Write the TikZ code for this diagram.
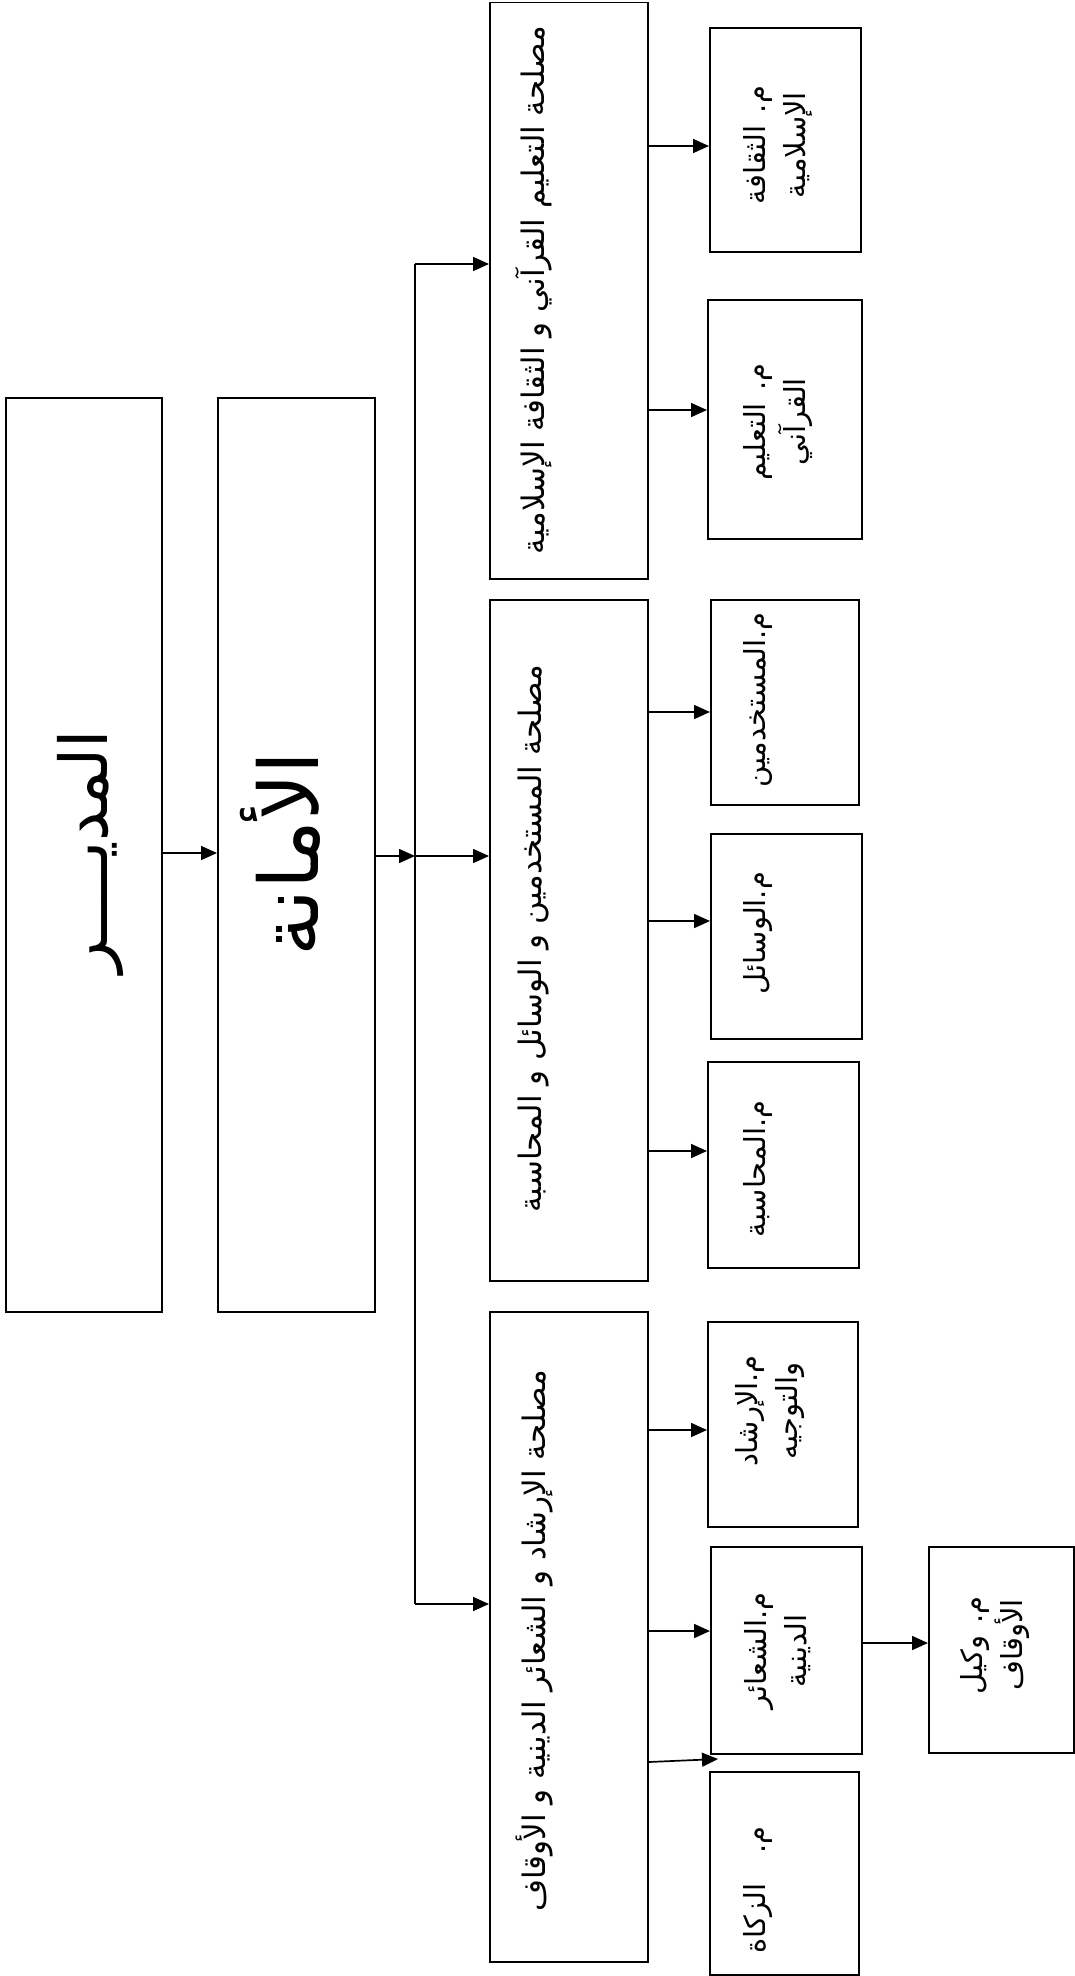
\documentclass[tikz,border=0pt]{standalone}
\usepackage{fontspec}
\newfontfamily\arabicfont[Script=Arabic]{DejaVu Sans}
\TeXXeTstate=1
\usetikzlibrary{arrows.meta}
\tikzset{
  box/.style={draw, line width=1.8pt, inner sep=0pt, anchor=north west},
  lbl/.style={rotate=90, inner sep=0pt, align=center, font=\arabicfont\fontsize{29}{40}\selectfont},
  maslbl/.style={rotate=90, inner sep=0pt, align=center, font=\arabicfont\fontsize{31}{40}\selectfont},
  biglbl/.style={rotate=90, inner sep=0pt, align=center, font=\arabicfont\fontsize{66}{80}\selectfont},
  arr/.style={line width=1.7pt, -{Triangle[length=16pt,width=14pt]}},
  ln/.style={line width=1.7pt},
}
\newcommand\bx[5]{\node[box, minimum width={(#4-#2)*1pt}, minimum height={(#5-#3)*1pt}] (#1) at (#2,#3) {};}
\begin{document}
\begin{tikzpicture}[x=1pt, y=-1pt]
\useasboundingbox (0,0) rectangle (1075,1976);
% boxes
\bx{dir}{5}{397}{161}{1311}
\bx{amana}{217}{397}{374}{1311}
\bx{mas1}{489}{1.5}{647}{578}
\bx{mas2}{489}{599}{647}{1280}
\bx{mas3}{489}{1311}{647}{1961}
\bx{thaq}{709}{27}{860}{251}
\bx{taal}{707}{299}{861}{538}
\bx{must}{710}{599}{858}{804}
\bx{wasa}{710}{833}{861}{1038}
\bx{muha}{707}{1061}{858}{1267}
\bx{irsh}{707}{1321}{857}{1526}
\bx{shaa}{710}{1546}{861}{1753}
\bx{waki}{928}{1546}{1073}{1752}
\bx{zaka}{709}{1771}{858}{1974}
% texts
\node[biglbl] (tdir) at (90,852) {\beginR المديــــر\endR};
\node[biglbl, font=\arabicfont\fontsize{82}{96}\selectfont] (tamana) at (280,854) {\beginR الأمانة\endR};
\node[maslbl] (tmas1) at (534,290) {\beginR مصلحة التعليم القرآني و الثقافة الإسلامية\endR};
\node[maslbl] (tmas2) at (534,939) {\beginR مصلحة المستخدمين و الوسائل و المحاسبة\endR};
\node[maslbl] (tmas3) at (534,1641) {\beginR مصلحة الإرشاد و الشعائر الدينية و الأوقاف\endR};
\node[lbl] (tthaq) at (778,145) {\beginR م. الثقافة\endR\\\beginR الإسلامية\endR};
\node[lbl] (ttaal) at (778,422) {\beginR م. التعليم\endR\\\beginR القرآني\endR};
\node[lbl] (tmust) at (758,700) {\beginR م.المستخدمين\endR};
\node[lbl] (twasa) at (758,933) {\beginR م.الوسائل\endR};
\node[lbl] (tmuha) at (758,1169) {\beginR م.المحاسبة\endR};
\node[lbl] (tirsh) at (770,1411) {\beginR م.الإرشاد\endR\\\beginR والتوجيه\endR};
\node[lbl] (tshaa) at (778,1651) {\beginR م.الشعائر\endR\\\beginR الدينية\endR};
\node[lbl] (twaki) at (995,1645) {\beginR م. وكيل\endR\\\beginR الأوقاف\endR};
\node[lbl] (tzaka) at (758,1890) {\beginR م.\hspace{30pt}الزكاة\endR};
% connectors
\coordinate (ttop) at (415,264);
\coordinate (tmid) at (415,856);
\coordinate (tbot) at (415,1604);
\coordinate (zk) at (718,1759);
\draw[arr] (dir.east |- 0,853) -- (amana.west |- 0,853);
\draw[arr] (amana.east |- 0,856) -- (tmid);
\draw[ln] (ttop) -- (tbot);
\draw[arr] (ttop) -- (mas1.west |- ttop);
\draw[arr] (tmid) -- (mas2.west |- tmid);
\draw[arr] (tbot) -- (mas3.west |- tbot);
\draw[arr] (mas1.east |- 0,146) -- (thaq.west |- 0,146);
\draw[arr] (mas1.east |- 0,410) -- (taal.west |- 0,410);
\draw[arr] (mas2.east |- 0,712) -- (must.west |- 0,712);
\draw[arr] (mas2.east |- 0,921) -- (wasa.west |- 0,921);
\draw[arr] (mas2.east |- 0,1151) -- (muha.west |- 0,1151);
\draw[arr] (mas3.east |- 0,1430) -- (irsh.west |- 0,1430);
\draw[arr] (mas3.east |- 0,1631) -- (shaa.west |- 0,1631);
\draw[arr] (mas3.east |- 0,1762) -- (zk);
\draw[arr] (shaa.east |- 0,1643) -- (waki.west |- 0,1643);
\end{tikzpicture}
\end{document}
